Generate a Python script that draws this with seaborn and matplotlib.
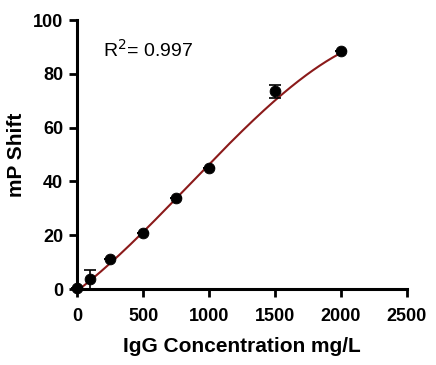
import numpy as np
import pandas as pd
import seaborn as sns
import matplotlib.pyplot as plt

conc = [0, 100, 250, 500, 750, 1000, 1500, 2000]
mp_shift = [0.5, 3.7, 11.0, 21.0, 34.0, 45.0, 73.5, 88.5]
mp_err = [0.0, 3.5, 0.0, 0.0, 0.0, 0.0, 2.3, 0.0]

# Fitted curve
curve_conc = [0, 100, 250, 500, 750, 1000, 1250, 1500, 1750, 2000]
curve_shift = [0.0, 3.0, 8.9, 20.7, 34.3, 46.8, 59.0, 69.8, 79.2, 88.3]

xticks = [0, 500, 1000, 1500, 2000, 2500]
yticks = [0, 20, 40, 60, 80, 100]

df = pd.DataFrame({"conc": conc, "shift": mp_shift, "err": mp_err})

# smooth the read curve with a cubic fit
coef = np.polyfit(curve_conc, curve_shift, 3)
fit_x = np.linspace(0, 2000, 200)
fit = pd.DataFrame({"conc": fit_x, "shift": np.polyval(coef, fit_x)})

sns.set_style("ticks", {"text.color": "black", "axes.labelcolor": "black",
                        "xtick.color": "black", "ytick.color": "black",
                        "axes.edgecolor": "black"})
plt.rcParams["font.family"] = ["Liberation Sans", "DejaVu Sans"]

fig = plt.figure(figsize=(4.36, 3.65), dpi=100)
ax = fig.add_axes([0.177, 0.208, 0.756, 0.737])

sns.lineplot(data=fit, x="conc", y="shift", ax=ax, color="#8b1a1a", linewidth=1.5)
ax.errorbar(df["conc"], df["shift"], yerr=df["err"], fmt="none", ecolor="black",
            elinewidth=1.2, capsize=4, capthick=1.2, clip_on=False)
sns.scatterplot(data=df, x="conc", y="shift", ax=ax, color="black", s=60,
                edgecolor="black", zorder=5, clip_on=False)

ax.set_xlim(0, 2500)
ax.set_ylim(0, 100)
ax.set_xticks(xticks)
ax.set_yticks(yticks)
ax.tick_params(width=2, length=6, labelsize=13, pad=4)
ax.tick_params(axis="x", pad=7.5)
for lab in ax.get_xticklabels() + ax.get_yticklabels():
    lab.set_fontweight("bold")
for s in ["left", "bottom"]:
    ax.spines[s].set_linewidth(2.2)
sns.despine(ax=ax)

ax.set_xlabel("IgG Concentration mg/L", fontsize=15, fontweight="bold", labelpad=9)
ax.set_ylabel("mP Shift", fontsize=15, fontweight="bold", labelpad=5)
ax.text(195, 89, "R$^2$= 0.997", fontsize=14, va="center")

fig.savefig("out.png", dpi=100)
